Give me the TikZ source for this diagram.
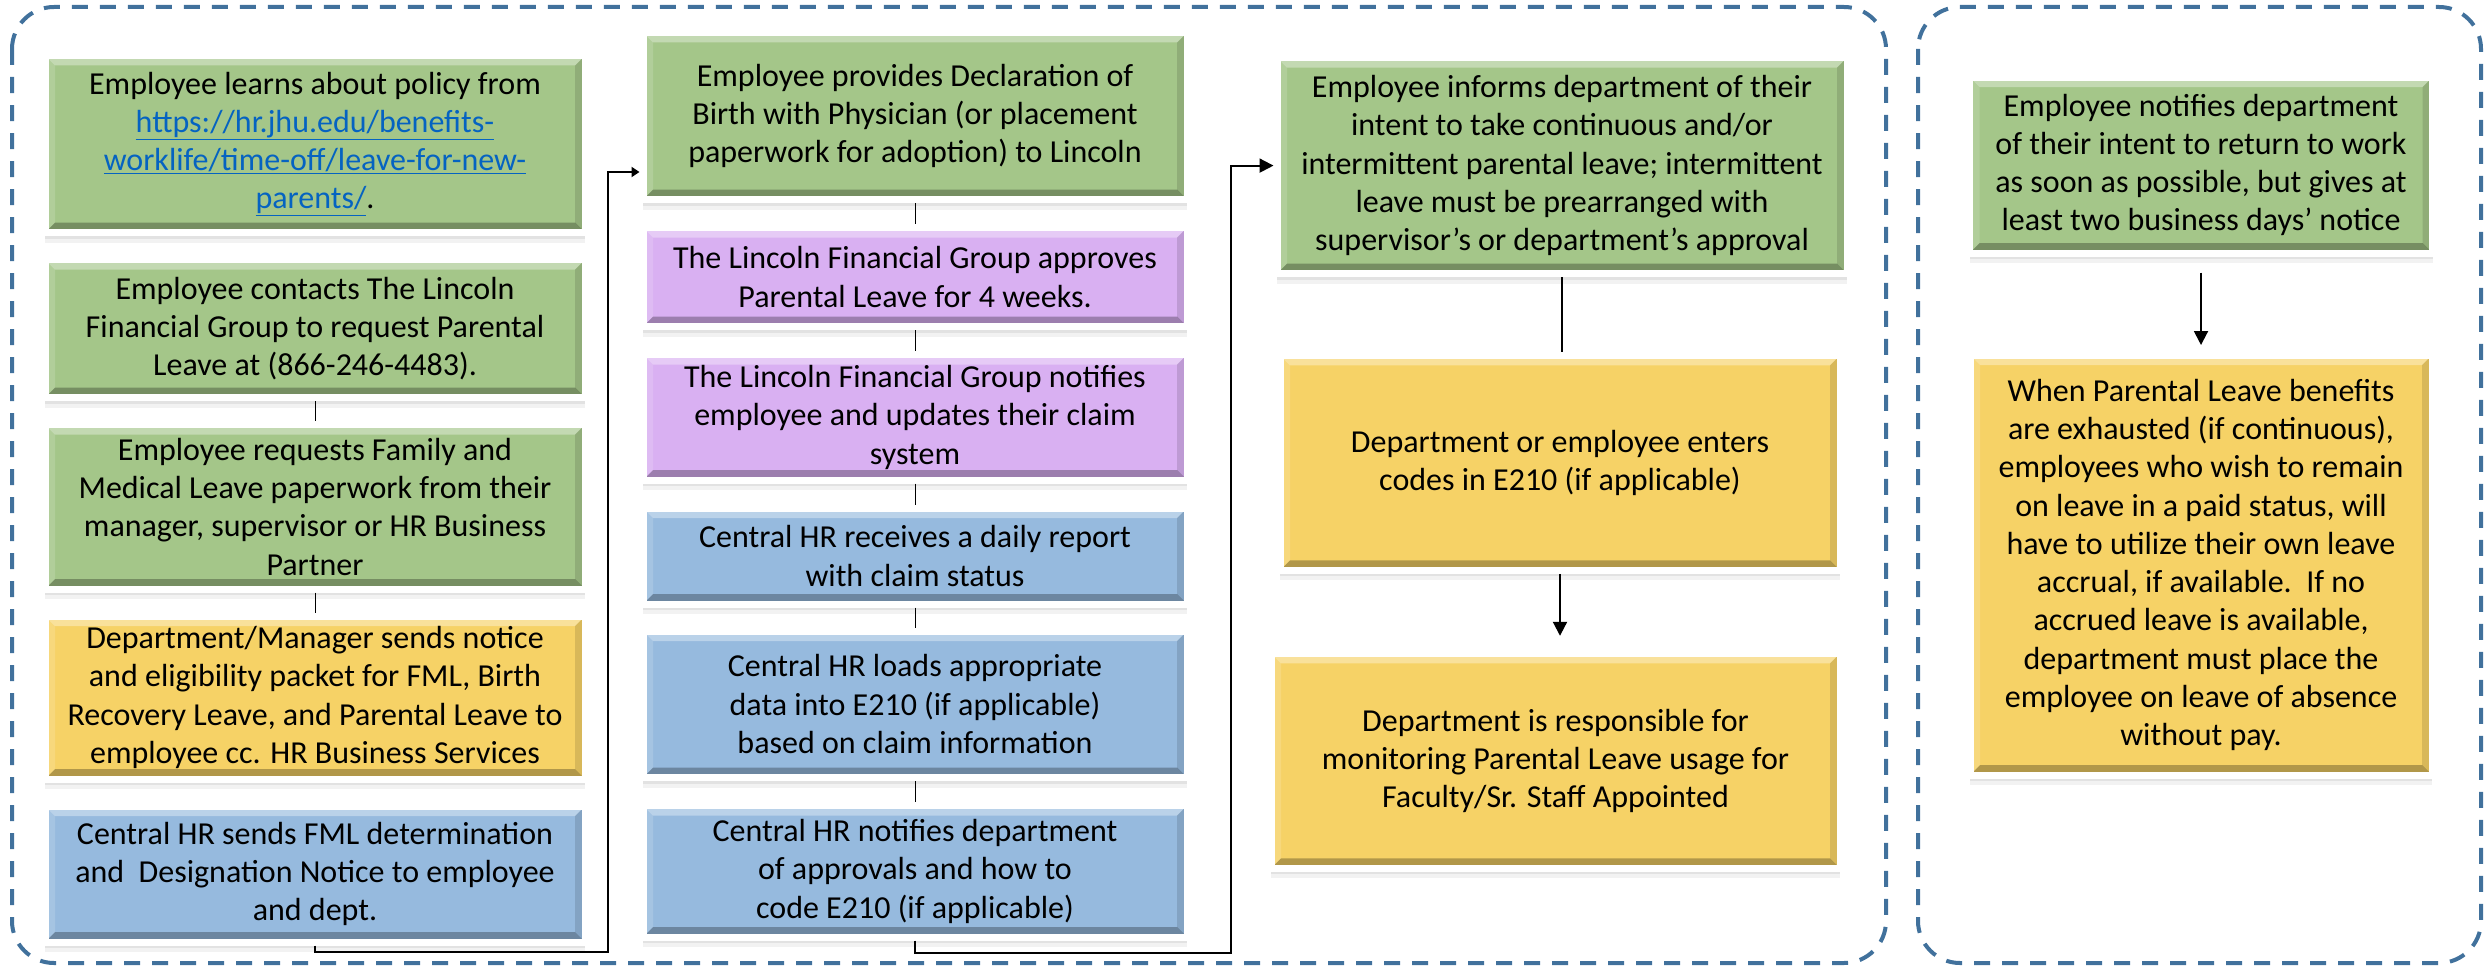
\documentclass[tikz,border=0pt]{standalone}
\usepackage{fontspec}
\setmainfont{Carlito}
\usetikzlibrary{arrows.meta,positioning,shadows}

\definecolor{boxgreen}{RGB}{164,198,137}
\definecolor{boxyellow}{RGB}{246,210,102}
\definecolor{boxpurple}{RGB}{217,176,242}
\definecolor{boxblue}{RGB}{150,186,222}
\definecolor{panelblue}{RGB}{65,113,156}
\definecolor{linkblue}{RGB}{5,99,193}

\newcommand{\weblink}[1]{\textcolor{linkblue}{\underline{#1}}}
% bevelled edge of a card
\newcommand{\bevel}{%
  \fill[white,opacity=.35] (path picture bounding box.north west) -- (path picture bounding box.north east)
    -- ([shift={(-10pt,-10pt)}]path picture bounding box.north east) -- ([shift={(10pt,-10pt)}]path picture bounding box.north west) -- cycle;
  \fill[black,opacity=.28] (path picture bounding box.south west) -- (path picture bounding box.south east)
    -- ([shift={(-10pt,10pt)}]path picture bounding box.south east) -- ([shift={(10pt,10pt)}]path picture bounding box.south west) -- cycle;
  \fill[white,opacity=.15] (path picture bounding box.north west) -- ([shift={(10pt,-10pt)}]path picture bounding box.north west)
    -- ([shift={(10pt,10pt)}]path picture bounding box.south west) -- (path picture bounding box.south west) -- cycle;
  \fill[black,opacity=.12] (path picture bounding box.north east) -- ([shift={(-10pt,-10pt)}]path picture bounding box.north east)
    -- ([shift={(-10pt,10pt)}]path picture bounding box.south east) -- (path picture bounding box.south east) -- cycle;}

\begin{document}
\begin{tikzpicture}[x=1pt,y=-1pt,>={Triangle[length=14pt,width=14pt]},
  card/.style={draw=white,line width=7pt,align=center,inner sep=0pt,
    font=\fontsize{32}{38.3}\selectfont,
    drop shadow={shadow xshift=0pt,shadow yshift=-10pt,opacity=.10},
    drop shadow={shadow xshift=0pt,shadow yshift=-6pt,opacity=.14},
    path picture={\bevel}},
  green/.style={card,fill=boxgreen},
  yellow/.style={card,fill=boxyellow},
  purple/.style={card,fill=boxpurple},
  blue/.style={card,fill=boxblue},
  colA/.style={minimum width=540pt},
  colB/.style={minimum width=544pt},
  panel/.style={draw=panelblue,line width=4pt,dash pattern=on 16pt off 12pt,rounded corners=42pt},
  tie/.style={-,line width=1pt},
  elbow/.style={line width=2pt},
  entry/.style={-{Triangle[length=8pt,width=10pt]}}]

\useasboundingbox (0,0) rectangle (2484,966);

\draw[panel] (12,7) rectangle (1886,963);
\draw[panel] (1918,7) rectangle (2481,963);

\node[green,colA,minimum height=177pt] (b1) at (315,144)
  {Employee learns about policy from\\\weblink{https://hr.jhu.edu/benefits-}\\\weblink{worklife/time-off/leave-for-new-}\\\weblink{parents/}.};
\node[green,colA,minimum height=138pt] (b2) [below=20pt of b1]
  {Employee contacts The Lincoln\\Financial Group to request Parental\\Leave at (866-246-4483).};
\node[green,colA,minimum height=164.5pt] (b3) [below=20pt of b2]
  {Employee requests Family and\\Medical Leave paperwork from their\\manager, supervisor or HR Business\\Partner};
\node[yellow,colA,minimum height=163pt] (b4) [below=20pt of b3]
  {Department/Manager sends notice\\and eligibility packet for FML, Birth\\Recovery Leave, and Parental Leave to\\employee cc. HR Business Services};
\node[blue,colA,minimum height=136pt] (b5) [below=20pt of b4]
  {Central HR sends FML determination\\and\ \ Designation Notice to employee\\and dept.};

\node[green,colB,minimum height=167pt] (b6) at (915,116)
  {Employee provides Declaration of\\Birth with Physician (or placement\\paperwork for adoption) to Lincoln};
\node[purple,colB,minimum height=99pt] (b7) [below=21pt of b6]
  {The Lincoln Financial Group approves\\Parental Leave for 4 weeks.};
\node[purple,colB,minimum height=125.5pt] (b8) [below=21pt of b7]
  {The Lincoln Financial Group notifies\\employee and updates their claim\\system};
\node[blue,colB,minimum height=96pt] (b9) [below=21pt of b8]
  {Central HR receives a daily report\\with claim status};
\node[blue,colB,minimum height=146.5pt] (b10) [below=20pt of b9]
  {Central HR loads appropriate\\data into E210 (if applicable)\\based on claim information};
\node[blue,colB,minimum height=131.5pt] (b11) [below=21pt of b10]
  {Central HR notifies department\\of approvals and how to\\code E210 (if applicable)};

\node[green,minimum width=570pt,minimum height=216pt] (b12) at (1562,165.6)
  {Employee informs department of their\\intent to take continuous and/or\\intermittent parental leave; intermittent\\leave must be prearranged with\\supervisor’s or department’s approval};
\node[yellow,minimum width=560pt,minimum height=215pt] (b13) [below=74.7pt of b12,xshift=-2pt]
  {Department or employee enters\\codes in E210 (if applicable)};
\node[yellow,minimum width=569pt,minimum height=215pt] (b14) [below=76pt of b13,xshift=-4.5pt]
  {Department is responsible for\\monitoring Parental Leave usage for\\Faculty/Sr. Staff Appointed};

\node[green,minimum width=463pt,minimum height=176pt] (b15) at (2201,165)
  {Employee notifies department\\of their intent to return to work\\as soon as possible, but gives at\\least two business days’ notice};
\node[yellow,minimum width=462pt,minimum height=420pt] (b16) [below=95pt of b15]
  {When Parental Leave benefits\\are exhausted (if continuous),\\employees who wish to remain\\on leave in a paid status, will\\have to utilize their own leave\\accrual, if available.\ \ If no\\accrued leave is available,\\department must place the\\employee on leave of absence\\without pay.};

\path
  (b2) edge[tie] (b3)
  (b3) edge[tie] (b4);

\path
  (b6) edge[tie] (b7)
  (b7) edge[tie] (b8)
  (b8) edge[tie] (b9)
  (b9) edge[tie] (b10)
  (b10) edge[tie] (b11);

\coordinate (j1) at (608,952);
\coordinate (j2) at (1231,953);
\draw[elbow,entry] (b5.south) |- (j1) |- ([yshift=31pt]b6.south west);
\draw[elbow,->] (b11.south) |- (j2) |- (b12.west);

\draw[elbow] (b12.south) -- (b12.south |- b13.north);
\draw[elbow,->,shorten >=14pt] (b13.south) -- (b13.south |- b14.north);
\path (b15) edge[elbow,->,shorten <=16pt,shorten >=6.5pt] (b16);

\end{tikzpicture}
\end{document}
